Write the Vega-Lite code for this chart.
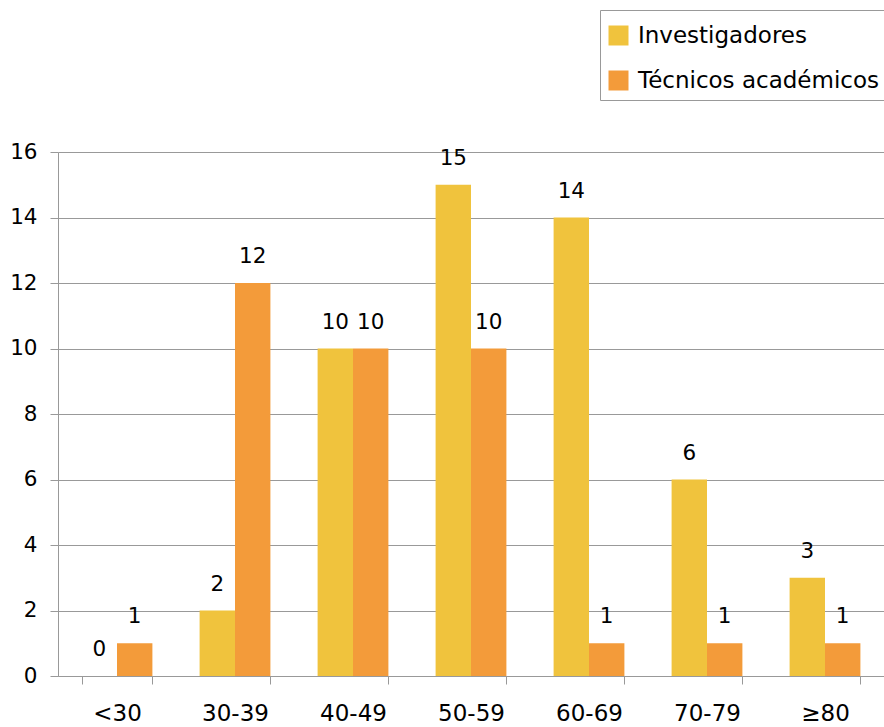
{
  "$schema": "https://vega.github.io/schema/vega-lite/v6.json",
  "width": 826,
  "height": 524,
  "autosize": {"type": "none"},
  "padding": {"left": 58, "top": 152, "right": 0, "bottom": 51},
  "background": "white",
  "config": {
    "font": "DejaVu Sans",
    "view": {"stroke": null}
  },
  "data": {
    "values": [
      {"edad": "<30", "grupo": "Investigadores", "valor": 0},
      {"edad": "<30", "grupo": "Técnicos académicos", "valor": 1},
      {"edad": "30-39", "grupo": "Investigadores", "valor": 2},
      {"edad": "30-39", "grupo": "Técnicos académicos", "valor": 12},
      {"edad": "40-49", "grupo": "Investigadores", "valor": 10},
      {"edad": "40-49", "grupo": "Técnicos académicos", "valor": 10},
      {"edad": "50-59", "grupo": "Investigadores", "valor": 15},
      {"edad": "50-59", "grupo": "Técnicos académicos", "valor": 10},
      {"edad": "60-69", "grupo": "Investigadores", "valor": 14},
      {"edad": "60-69", "grupo": "Técnicos académicos", "valor": 1},
      {"edad": "70-79", "grupo": "Investigadores", "valor": 6},
      {"edad": "70-79", "grupo": "Técnicos académicos", "valor": 1},
      {"edad": "≥80", "grupo": "Investigadores", "valor": 3},
      {"edad": "≥80", "grupo": "Técnicos académicos", "valor": 1}
    ]
  },
  "encoding": {
    "x": {
      "field": "edad",
      "type": "nominal",
      "sort": ["<30", "30-39", "40-49", "50-59", "60-69", "70-79", "≥80"],
      "scale": {"paddingInner": 0.4, "paddingOuter": 0.2},
      "axis": {
        "title": null,
        "labelAngle": 0,
        "labelFontSize": 23,
        "labelColor": "#000000",
        "labelPadding": 18,
        "tickBand": "extent",
        "tickSize": 8,
        "tickColor": "#999999",
        "domainColor": "#999999",
        "grid": false
      }
    },
    "xOffset": {
      "field": "grupo",
      "type": "nominal",
      "sort": ["Investigadores", "Técnicos académicos"],
      "scale": {"paddingInner": 0, "paddingOuter": 0}
    },
    "y": {
      "field": "valor",
      "type": "quantitative",
      "scale": {"domain": [0, 16], "nice": false},
      "axis": {
        "title": null,
        "values": [0, 2, 4, 6, 8, 10, 12, 14, 16],
        "labelFontSize": 21.5,
        "labelColor": "#000000",
        "labelPadding": 13,
        "tickSize": 8,
        "tickColor": "#999999",
        "domainColor": "#999999",
        "gridColor": "#999999",
        "grid": true
      }
    }
  },
  "layer": [
    {
      "mark": {"type": "bar"},
      "encoding": {
        "color": {
          "field": "grupo",
          "type": "nominal",
          "sort": ["Investigadores", "Técnicos académicos"],
          "scale": {"domain": ["Investigadores", "Técnicos académicos"], "range": ["#F0C33D", "#F39B3A"]},
          "legend": {
            "title": " ",
            "titleFontSize": 1,
            "titlePadding": 6,
            "orient": "none",
            "legendX": 542,
            "legendY": -142,
            "symbolType": "square",
            "symbolSize": 400,
            "symbolStrokeWidth": 0,
            "labelFontSize": 23,
            "labelLimit": 0,
            "labelColor": "#000000",
            "labelOffset": 8,
            "rowPadding": 21,
            "padding": 7,
            "strokeColor": "#999999",
            "fillColor": "white"
          }
        }
      }
    },
    {
      "mark": {"type": "text", "baseline": "bottom", "dy": -15, "fontSize": 21.5, "color": "#000000"},
      "encoding": {
        "text": {"field": "valor", "type": "quantitative"}
      }
    }
  ]
}
